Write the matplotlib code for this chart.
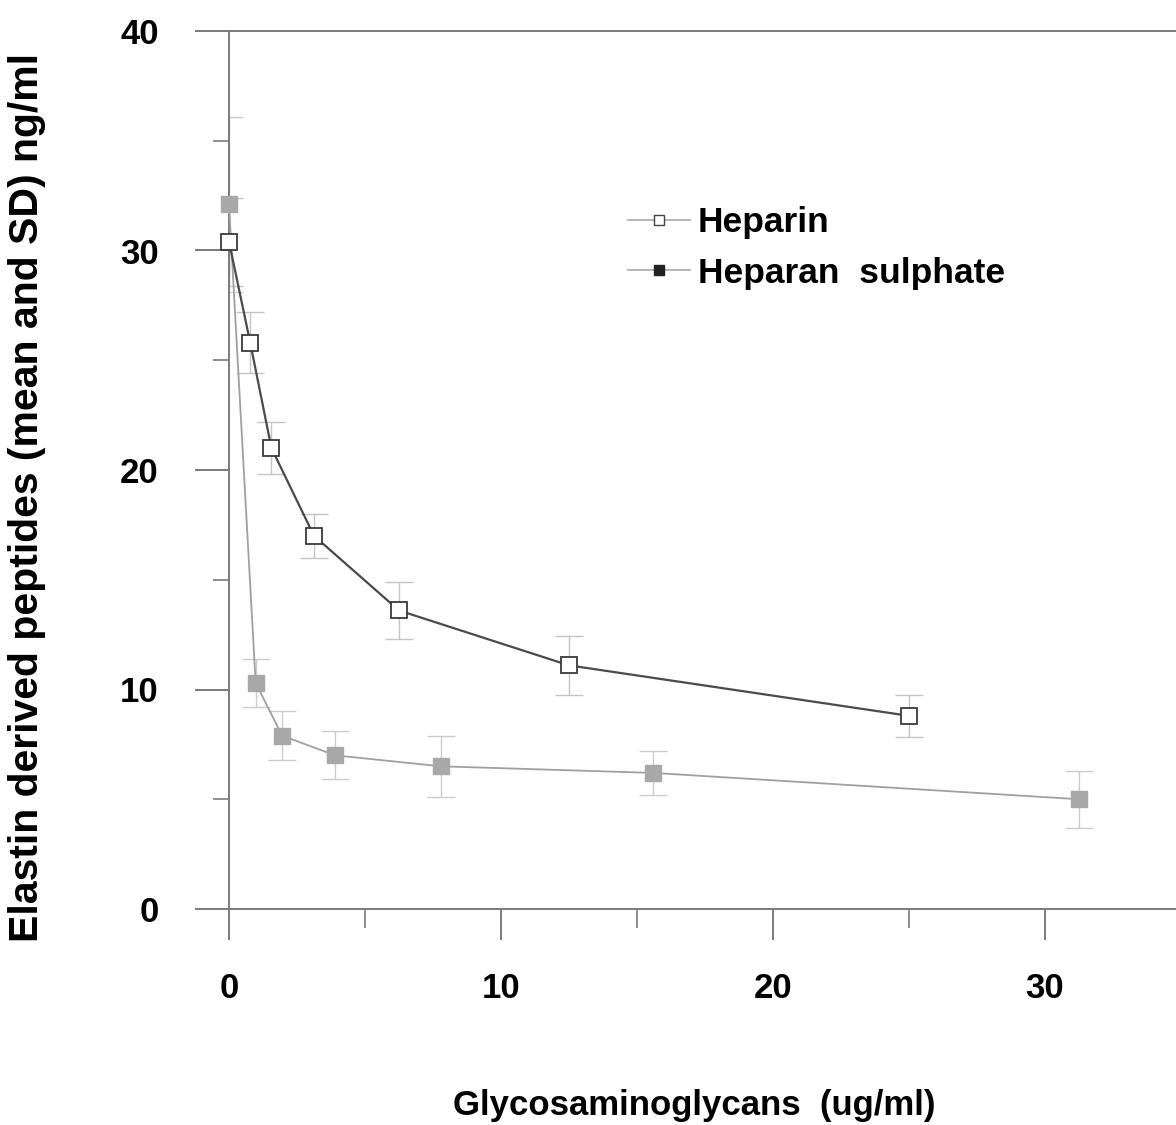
import matplotlib
matplotlib.use("Agg")
import matplotlib.pyplot as plt
from matplotlib.lines import Line2D
from matplotlib.ticker import MultipleLocator

# --- datos: péptidos derivados de elastina vs. glicosaminoglicanos ---
heparin_x = [0.0, 0.78, 1.56, 3.125, 6.25, 12.5, 25.0]
heparin_y = [30.4, 25.8, 21.0, 17.0, 13.6, 11.1, 8.8]
heparin_sd = [2.0, 1.4, 1.2, 1.0, 1.3, 1.35, 0.95]

hs_x = [0.0, 0.98, 1.95, 3.9, 7.8, 15.6, 31.25]
hs_y = [32.1, 10.3, 7.9, 7.0, 6.5, 6.2, 5.0]
hs_sd = [4.0, 1.1, 1.1, 1.1, 1.4, 1.0, 1.3]

x_ticks = [0, 10, 20, 30]
y_ticks = [0, 10, 20, 30, 40]

axis_grey = "#7a7a7a"
font = "Liberation Sans"

fig = plt.figure(figsize=(11.76, 11.25), dpi=100)
ax = fig.add_axes([229 / 1176, 1 - 909 / 1125, 1 - 229 / 1176, (909 - 31) / 1125])

# barras de error (SD), muy claras
ax.errorbar(heparin_x, heparin_y, yerr=heparin_sd, fmt="none", ecolor="#c4c4c4",
            elinewidth=1.0, capsize=10, capthick=1.0, zorder=2)
ax.errorbar(hs_x, hs_y, yerr=hs_sd, fmt="none", ecolor="#cccccc",
            elinewidth=1.0, capsize=10, capthick=1.0, zorder=2)

# series
ax.plot(hs_x, hs_y, color="#a0a0a0", lw=1.3, marker="s", ms=11,
        mfc="#a8a8a8", mec="#a8a8a8", zorder=3, clip_on=False)
ax.plot(heparin_x, heparin_y, color="#4a4a4a", lw=1.6, marker="s", ms=12,
        mfc="white", mec="#3a3a3a", mew=1.3, zorder=4, clip_on=False)

ax.set_xlim(0, (1176 - 229) / 27.2)
ax.set_ylim(0, 40)

# ejes
ax.spines["right"].set_visible(False)
for side in ["left", "top", "bottom"]:
    ax.spines[side].set_color(axis_grey)
    ax.spines[side].set_linewidth(1.4)

ax.set_xticks(x_ticks)
ax.set_yticks(y_ticks)
ax.xaxis.set_minor_locator(MultipleLocator(5))
ax.yaxis.set_minor_locator(MultipleLocator(5))
ax.tick_params(axis="x", which="major", direction="out", length=22, width=1.4,
               color=axis_grey, pad=23, labelsize=25)
ax.tick_params(axis="x", which="minor", direction="out", length=14, width=1.2,
               color=axis_grey)
ax.tick_params(axis="y", which="major", direction="out", length=24.5, width=1.4,
               color=axis_grey, pad=26, labelsize=25)
ax.tick_params(axis="y", which="minor", direction="out", length=11.5, width=1.2,
               color=axis_grey)
for lab in ax.get_xticklabels() + ax.get_yticklabels():
    lab.set_fontfamily(font)
    lab.set_fontweight("bold")

# leyenda
handles = [
    Line2D([], [], color="#b0b0b0", lw=1.3, marker="s", ms=7, mfc="white",
           mec="#444444", mew=1.0),
    Line2D([], [], color="#b0b0b0", lw=1.3, marker="s", ms=7, mfc="#222222",
           mec="#222222"),
]
leg = fig.legend(handles, ["Heparin", "Heparan  sulphate"], loc="upper left",
                 bbox_to_anchor=(628 / 1176, 1 - 206 / 1125), frameon=False,
                 borderpad=0, borderaxespad=0, handlelength=1.75, handletextpad=0.22,
                 labelspacing=0.5, prop={"family": font, "weight": "bold", "size": 25.5})

fig.text(694 / 1176, 1 - 1105 / 1125, "Glycosaminoglycans  (ug/ml)", ha="center",
         va="center", fontsize=25, fontweight="bold", family=font)
fig.text(27 / 1176, 1 - 497 / 1125, "Elastin derived peptides (mean and SD) ng/ml",
         ha="center", va="center", rotation=90, fontsize=29.5, fontweight="bold",
         family=font)

fig.savefig("out.png", dpi=100)
